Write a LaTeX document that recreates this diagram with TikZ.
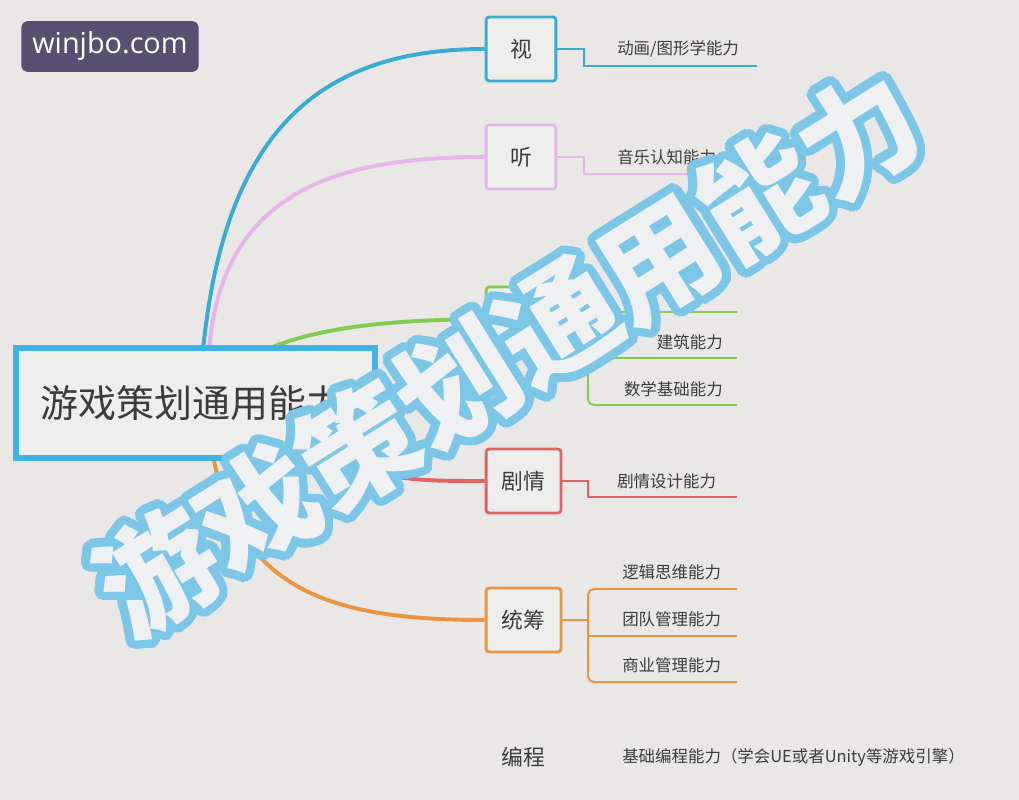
\documentclass[tikz,border=0pt]{standalone}
\usepackage{fontspec}
\setmainfont{Noto Sans CJK SC}
\newfontfamily\badgefont{Open Sans}
\usepackage[copies]{contour}
\usetikzlibrary{calc}

\definecolor{pagebg}{HTML}{E9E8E6}
\definecolor{boxbg}{HTML}{EEEEEC}
\definecolor{txtgray}{HTML}{3C3C3C}
\definecolor{rootblue}{HTML}{3DB4E2}
\definecolor{seeblue}{HTML}{3AABD4}
\definecolor{hearpink}{HTML}{E6B6EA}
\definecolor{spacegreen}{HTML}{82CC52}
\definecolor{storyred}{HTML}{E06464}
\definecolor{planorange}{HTML}{EC9440}
\definecolor{markblue}{HTML}{7CC6E8}
\definecolor{markfill}{HTML}{EFF0F1}
\definecolor{badgebg}{HTML}{575070}

\contourlength{6pt}
\contournumber{32}

\begin{document}
\begin{tikzpicture}[x=0.025cm, y=-0.025cm,
        topic/.style={draw, line width=2pt, rounded corners=2pt, fill=boxbg,
            text=txtgray, inner sep=0pt, minimum height=45.4pt,
            font=\fontsize{15.5}{18}\selectfont},
        leaf/.style={text=txtgray, inner sep=0pt, anchor=west,
            font=\fontsize{11.7}{14}\selectfont},
        trunk/.style={line width=2.8pt},
        twig/.style={line width=1.4pt}]
        \fill[pagebg] (0,0) rectangle (1019,800);
        \useasboundingbox (0,0) rectangle (1019,800);

        \node[topic, draw=seeblue, minimum width=49.6pt] at (521,49) (see) {视};
        \node[topic, draw=hearpink, minimum width=49.6pt] at (521,157) (hear) {听};
        \node[topic, draw=spacegreen, minimum width=49.6pt] at (521,319) (space) {};
        \node[topic, draw=storyred, minimum width=53.2pt] at (523.5,481) (story) {剧情};
        \node[topic, draw=planorange, minimum width=53.2pt] at (523.5,620) (plan) {统筹};
        \node[topic, draw=none, fill=none, minimum width=53.2pt] at (523.5,757) (code) {编程};

        % curves out of the central topic
        \draw[trunk, seeblue] (203,350) .. controls (225,130) and (320,49) .. (see.west);
        \draw[trunk, hearpink] (209,350) .. controls (222,195) and (330,157) .. (hear.west);
        \draw[trunk, spacegreen] (265,350) .. controls (330,322) and (420,320) .. (space.west);
        \draw[trunk, storyred] (350,456) .. controls (380,481) and (420,481) .. (story.west);
        \draw[trunk, planorange] (213,456) .. controls (240,590) and (330,620) .. (plan.west);

        \node[draw=rootblue, line width=4pt, fill=boxbg, text=txtgray,
            text width=220pt, align=left, inner xsep=17.7pt, minimum height=78pt,
            font=\fontsize{27}{32}\selectfont] at (195.5,403) (root) {游戏策划通用能力};

        % leaves
        \node[leaf] at (617,49) (see_a) {动画/图形学能力};
        \node[leaf] at (617,157) (hear_a) {音乐认知能力};
        \node[leaf, anchor=east] at (723,342) (space_b) {建筑能力};
        \node[leaf, anchor=east] at (723,389) (space_c) {数学基础能力};
        \node[leaf] at (617,481) (story_a) {剧情设计能力};
        \node[leaf] at (622,572) (plan_a) {逻辑思维能力};
        \node[leaf] at (622,619) (plan_b) {团队管理能力};
        \node[leaf] at (622,665) (plan_c) {商业管理能力};
        \node[leaf] at (622,757) (code_a) {基础编程能力（学会UE或者Unity等游戏引擎）};

        \coordinate (see_end) at (757,66);
        \coordinate (hear_end) at (740,174);
        \coordinate (space_a_end) at (737,312);
        \coordinate (space_b_end) at (737,358);
        \coordinate (space_c_end) at (737,405);
        \coordinate (story_end) at (737,497);
        \coordinate (plan_a_end) at (737,589);
        \coordinate (plan_b_end) at (737,636);
        \coordinate (plan_c_end) at (737,682);

        \draw[twig, seeblue] (see.east) -- ++(27,0) |- (see_end);
        \draw[twig, hearpink] (hear.east) -- ++(27,0) |- (hear_end);
        \draw[twig, storyred] (story.east) -- ++(26,0) |- (story_end);
        \draw[twig, spacegreen] (space.east) -- ++(32,0);
        \draw[twig, spacegreen, rounded corners=4pt]
            (space_a_end) -- (588,312) -- (588,405) -- (space_c_end);
        \draw[twig, spacegreen] (588,358) -- (space_b_end);
        \draw[twig, planorange] (plan.east) -- ++(27,0);
        \draw[twig, planorange, rounded corners=4pt]
            (plan_a_end) -- (588,589) -- (588,682) -- (plan_c_end);
        \draw[twig, planorange] (588,636) -- (plan_b_end);

        % big stamp over the map
        \node[rotate=32, inner sep=0pt, font=\fontsize{84}{90}\selectfont\bfseries]
            at (510,356) (stamp) {\contour{markblue}{\textcolor{markfill}{游戏策划通用能力}}};

        \node[fill=badgebg, rounded corners=4pt, minimum width=126pt,
            minimum height=36pt, inner sep=0pt, text=white,
            font=\badgefont\fontsize{20.5}{24}\selectfont] at (110,46.5) (badge) {\raisebox{-2pt}{winjbo.com}};
    \end{tikzpicture}
\end{document}
